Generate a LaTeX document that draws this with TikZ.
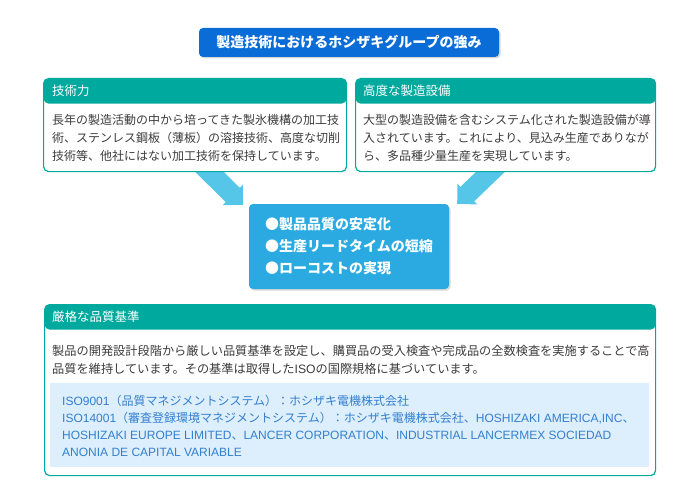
\documentclass[tikz,border=0pt]{standalone}
\usepackage{fontspec}
\setmainfont{Noto Sans CJK JP}
\newfontfamily\latinfont{Liberation Sans}
\usetikzlibrary{arrows.meta,shadows}

\definecolor{titleblue}{HTML}{0A6CD6}
\definecolor{headteal}{HTML}{00A99D}
\definecolor{ctrblue}{HTML}{2AAAE1}
\definecolor{arrowblue}{HTML}{55C6E8}
\definecolor{isofill}{HTML}{DDEEFC}
\definecolor{isotext}{HTML}{3380CF}
\definecolor{bodygray}{HTML}{3C3C3C}

\newcommand{\lat}[1]{{\latinfont #1}}

\pgfdeclarelayer{background}
\pgfsetlayers{background,main}

\tikzset{
  panel/.style={draw=headteal, line width=1.2pt, fill=white, rounded corners=5pt,
    anchor=north west, inner sep=0pt,
    path picture={\fill[headteal] (path picture bounding box.north west)
      rectangle ([yshift=-25pt]path picture bounding box.north east);}},
  headtext/.style={anchor=west, text=white, inner sep=0pt, font=\fontsize{12.5pt}{15pt}\selectfont},
  bodytext/.style={anchor=north west, align=left, inner sep=0pt, text=bodygray,
    font=\fontsize{12pt}{18pt}\selectfont},
  bigarrow/.style={draw=arrowblue, line width=20pt, -{Triangle[length=14pt,width=28pt]}}
}

\begin{document}
\begin{tikzpicture}[x=1pt, y=-1pt]
\useasboundingbox (0,0) rectangle (700,500);

% title
\node[fill=titleblue, rounded corners=4pt, minimum width=300pt, minimum height=29pt,
  text=white, font=\fontsize{14pt}{16pt}\selectfont\bfseries,
  drop shadow={shadow xshift=1.5pt, shadow yshift=-1.5pt, opacity=0.3}]
  (title) at (349,42.5) {製造技術におけるホシザキグループの強み};

% upper panels
\node[panel, minimum width=303pt, minimum height=93pt] (b1) at (43,78) {};
\node[headtext] (h1) at (52,91) {技術力};
\node[bodytext] (t1) at (52,114) {長年の製造活動の中から培ってきた製氷機構の加工技\\
術、ステンレス鋼板（薄板）の溶接技術、高度な切削\\
技術等、他社にはない加工技術を保持しています。};

\node[panel, minimum width=300pt, minimum height=93pt] (b2) at (355,78) {};
\node[headtext] (h2) at (363,91) {高度な製造設備};
\node[bodytext] (t2) at (363,114) {大型の製造設備を含むシステム化された製造設備が導\\
入されています。これにより、見込み生産でありなが\\
ら、多品種少量生産を実現しています。};

% result
\node[fill=ctrblue, rounded corners=4pt, minimum width=200pt, minimum height=85pt,
  text=white, align=left, font=\fontsize{14pt}{22pt}\selectfont\bfseries,
  drop shadow={shadow xshift=1.5pt, shadow yshift=-1.5pt, opacity=0.3}]
  (ctr) at (349,246.5) {●製品品質の安定化\\●生産リードタイムの短縮\\●ローコストの実現};

\begin{pgfonlayer}{background}
\draw[bigarrow] ([xshift=3.5pt,yshift=11pt]b1.south) -- ([xshift=-6pt,yshift=-1pt]ctr.north west);
\draw[bigarrow] ([xshift=-3pt,yshift=12pt]b2.south) -- ([xshift=8pt]ctr.north east);
\end{pgfonlayer}

% lower panel
\node[panel, minimum width=611pt, minimum height=171pt] (b3) at (44,304) {};
\node[headtext] (h3) at (52,316.5) {厳格な品質基準};
\node[bodytext, font=\fontsize{12.2pt}{18pt}\selectfont] (t3) at (52,345)
  {製品の開発設計段階から厳しい品質基準を設定し、購買品の受入検査や完成品の全数検査を実施することで高\\
品質を維持しています。その基準は取得した\lat{ISO}の国際規格に基づいています。};

\node[fill=isofill, anchor=north west, minimum width=599pt, minimum height=84pt, inner sep=0pt]
  (iso) at (50,383) {};
\node[bodytext, text=isotext, font=\fontsize{12pt}{17pt}\selectfont] (isot) at (62,395)
  {\lat{ISO9001}（品質マネジメントシステム）：ホシザキ電機株式会社\\
\lat{ISO14001}（審査登録環境マネジメントシステム）：ホシザキ電機株式会社、\lat{HOSHIZAKI AMERICA,INC}、\\
\lat{HOSHIZAKI EUROPE LIMITED}、\lat{LANCER CORPORATION}、\lat{INDUSTRIAL LANCERMEX SOCIEDAD}\\
\lat{ANONIA DE CAPITAL VARIABLE}};
\end{tikzpicture}
\end{document}
